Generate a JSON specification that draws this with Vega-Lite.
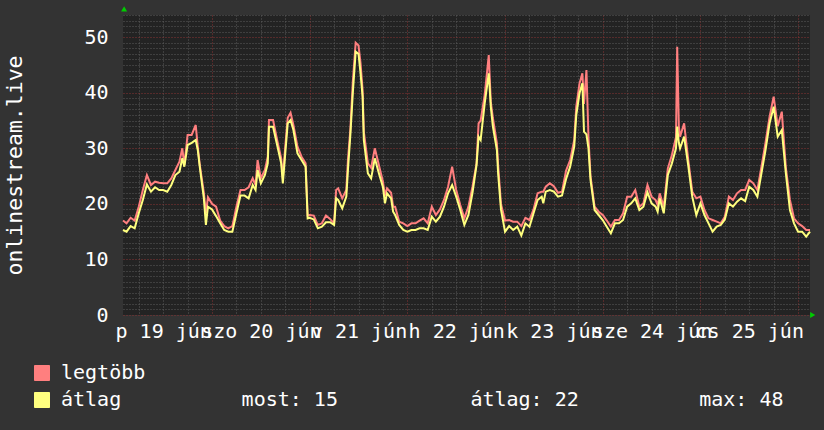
{
  "$schema": "https://vega.github.io/schema/vega-lite/v6.json",
  "width": 687,
  "height": 300,
  "autosize": {"type": "none"},
  "padding": {"left": 123, "top": 15, "right": 14, "bottom": 115},
  "background": "#333333",
  "config": {
    "view": {"fill": "#232323", "stroke": null},
    "font": "DejaVu Sans Mono",
    "axis": {
      "labelFont": "DejaVu Sans Mono",
      "labelColor": "#ffffff",
      "labelFontSize": 20,
      "domain": false,
      "ticks": false,
      "tickSize": 0,
      "gridWidth": 1,
      "gridDash": [1, 2],
      "gridColor": "#5c5c5c",
      "gridOpacity": 1,
      "title": null
    }
  },
  "data": {
    "values": [
      {"t": 2.13, "legtöbb": 17, "átlag": 15.3},
      {"t": 3, "legtöbb": 16.5, "átlag": 15.0},
      {"t": 4, "legtöbb": 17.5, "átlag": 16},
      {"t": 5, "legtöbb": 17, "átlag": 15.6},
      {"t": 6, "legtöbb": 19.5, "átlag": 18.3},
      {"t": 7, "legtöbb": 22.5, "átlag": 20.7},
      {"t": 8, "legtöbb": 25.2, "átlag": 23.5},
      {"t": 9, "legtöbb": 23.4, "átlag": 22.2},
      {"t": 10, "legtöbb": 24, "átlag": 23},
      {"t": 11, "legtöbb": 23.8, "átlag": 22.5},
      {"t": 12, "legtöbb": 23.7, "átlag": 22.5},
      {"t": 13, "legtöbb": 23.7, "átlag": 22.2},
      {"t": 14, "legtöbb": 24.6, "átlag": 23.4},
      {"t": 15, "legtöbb": 26.1, "átlag": 25.2},
      {"t": 16, "legtöbb": 27.6, "átlag": 25.8},
      {"t": 16.7, "legtöbb": 30, "átlag": 28.2},
      {"t": 17.2, "legtöbb": 27, "átlag": 26.7},
      {"t": 18, "legtöbb": 32.4, "átlag": 30.6},
      {"t": 19, "legtöbb": 32.4, "átlag": 31},
      {"t": 20, "legtöbb": 34.2, "átlag": 31.5},
      {"t": 20.5, "legtöbb": 30.3, "átlag": 29.7},
      {"t": 21, "legtöbb": 27, "átlag": 26.6},
      {"t": 22, "legtöbb": 22, "átlag": 21},
      {"t": 22.5, "legtöbb": 18.3, "átlag": 16.2},
      {"t": 23, "legtöbb": 21.2, "átlag": 19.5},
      {"t": 24, "legtöbb": 20, "átlag": 19},
      {"t": 25, "legtöbb": 19.5, "átlag": 17.8},
      {"t": 26, "legtöbb": 17, "átlag": 16.5},
      {"t": 27, "legtöbb": 16, "átlag": 15.3},
      {"t": 28, "legtöbb": 15.6, "átlag": 15},
      {"t": 29, "legtöbb": 16, "átlag": 15},
      {"t": 30, "legtöbb": 19.5, "átlag": 18.3},
      {"t": 31, "legtöbb": 22.5, "átlag": 21.5},
      {"t": 32, "legtöbb": 22.5, "átlag": 21.5},
      {"t": 33, "legtöbb": 23, "átlag": 21},
      {"t": 34, "legtöbb": 24.6, "átlag": 23.4},
      {"t": 34.7, "legtöbb": 23.4, "átlag": 22.5},
      {"t": 35.2, "legtöbb": 27.9, "átlag": 26.1},
      {"t": 36, "legtöbb": 24.6, "átlag": 23.7},
      {"t": 37, "legtöbb": 26.1, "átlag": 25.2},
      {"t": 37.7, "legtöbb": 28.5, "átlag": 27.3},
      {"t": 38, "legtöbb": 35.1, "átlag": 33.9},
      {"t": 39, "legtöbb": 35.1, "átlag": 33.9},
      {"t": 40, "legtöbb": 31.5, "átlag": 30.6},
      {"t": 41, "legtöbb": 28.2, "átlag": 27.3},
      {"t": 41.4, "legtöbb": 24.6, "átlag": 23.7},
      {"t": 42, "legtöbb": 30.3, "átlag": 29.1},
      {"t": 42.6, "legtöbb": 35.5, "átlag": 34.5},
      {"t": 43.3, "legtöbb": 36.4, "átlag": 35.1},
      {"t": 44, "legtöbb": 34.2, "átlag": 33.3},
      {"t": 45, "legtöbb": 30.3, "átlag": 29.1},
      {"t": 46, "legtöbb": 28.5, "átlag": 27.9},
      {"t": 47, "legtöbb": 27.3, "átlag": 26.7},
      {"t": 47.5, "legtöbb": 17.9, "átlag": 17.4},
      {"t": 48, "legtöbb": 18, "átlag": 17.5},
      {"t": 49, "legtöbb": 17.9, "átlag": 17.2},
      {"t": 50, "legtöbb": 16.2, "átlag": 15.6},
      {"t": 51, "legtöbb": 16.5, "átlag": 15.9},
      {"t": 52, "legtöbb": 17.9, "átlag": 16.7},
      {"t": 53, "legtöbb": 17.3, "átlag": 16.7},
      {"t": 54, "legtöbb": 16.5, "átlag": 16.2},
      {"t": 54.5, "legtöbb": 22.5, "átlag": 21},
      {"t": 55, "legtöbb": 22.8, "átlag": 20.7},
      {"t": 56, "legtöbb": 21, "átlag": 19.2},
      {"t": 57, "legtöbb": 22.5, "átlag": 21.3},
      {"t": 57.4, "legtöbb": 27.9, "átlag": 26.1},
      {"t": 58, "legtöbb": 33.5, "átlag": 32.5},
      {"t": 58.6, "legtöbb": 42, "átlag": 40},
      {"t": 59.3, "legtöbb": 49, "átlag": 47.4},
      {"t": 60, "legtöbb": 48.5, "átlag": 47},
      {"t": 60.5, "legtöbb": 45.3, "átlag": 43.5},
      {"t": 61, "legtöbb": 40.5, "átlag": 39.3},
      {"t": 61.3, "legtöbb": 33, "átlag": 31.5},
      {"t": 62.3, "legtöbb": 27.3, "átlag": 25.5},
      {"t": 63.1, "legtöbb": 26.5, "átlag": 24.6},
      {"t": 64, "legtöbb": 30, "átlag": 28.2},
      {"t": 65, "legtöbb": 27, "átlag": 25.5},
      {"t": 66, "legtöbb": 24, "átlag": 23},
      {"t": 66.5, "legtöbb": 21.5, "átlag": 20.1},
      {"t": 67, "legtöbb": 22.8, "átlag": 21.9},
      {"t": 68, "legtöbb": 22, "átlag": 21},
      {"t": 68.5, "legtöbb": 19.5, "átlag": 18.6},
      {"t": 69, "legtöbb": 19.5, "átlag": 18},
      {"t": 70, "legtöbb": 16.8, "átlag": 16.2},
      {"t": 71, "legtöbb": 16.5, "átlag": 15.3},
      {"t": 72, "legtöbb": 16, "átlag": 15},
      {"t": 73, "legtöbb": 16.5, "átlag": 15.3},
      {"t": 74, "legtöbb": 16.5, "átlag": 15.3},
      {"t": 75, "legtöbb": 17, "átlag": 15.6},
      {"t": 76, "legtöbb": 17.4, "átlag": 15.6},
      {"t": 77, "legtöbb": 16.5, "átlag": 15.3},
      {"t": 78, "legtöbb": 19.5, "átlag": 17.7},
      {"t": 79, "legtöbb": 18, "átlag": 16.8},
      {"t": 80, "legtöbb": 19, "átlag": 17.7},
      {"t": 81, "legtöbb": 20.7, "átlag": 19.5},
      {"t": 82, "legtöbb": 23.1, "átlag": 21.9},
      {"t": 83, "legtöbb": 26.7, "átlag": 23.4},
      {"t": 84, "legtöbb": 22.5, "átlag": 21.3},
      {"t": 85, "legtöbb": 19.8, "átlag": 18.9},
      {"t": 86, "legtöbb": 17.4, "átlag": 16.2},
      {"t": 87, "legtöbb": 19.5, "átlag": 18},
      {"t": 88, "legtöbb": 23.1, "átlag": 22},
      {"t": 89, "legtöbb": 27.3, "átlag": 27},
      {"t": 89.5, "legtöbb": 34.5, "átlag": 32.1},
      {"t": 90, "legtöbb": 35, "átlag": 31.5},
      {"t": 91, "legtöbb": 39.6, "átlag": 38.1},
      {"t": 92, "legtöbb": 46.8, "átlag": 43.5},
      {"t": 92.5, "legtöbb": 38.4, "átlag": 37.5},
      {"t": 93, "legtöbb": 35.5, "átlag": 34},
      {"t": 94, "legtöbb": 30.9, "átlag": 29.7},
      {"t": 94.3, "legtöbb": 27, "átlag": 25.5},
      {"t": 95, "legtöbb": 20, "átlag": 19},
      {"t": 96, "legtöbb": 17, "átlag": 15},
      {"t": 97, "legtöbb": 17.1, "átlag": 16},
      {"t": 98, "legtöbb": 16.8, "átlag": 15.3},
      {"t": 99, "legtöbb": 16.8, "átlag": 15.9},
      {"t": 100, "legtöbb": 16, "átlag": 14.3},
      {"t": 101, "legtöbb": 17.5, "átlag": 16.5},
      {"t": 102, "legtöbb": 17.1, "átlag": 15.9},
      {"t": 103, "legtöbb": 19, "átlag": 18.3},
      {"t": 104, "legtöbb": 21.9, "átlag": 20.7},
      {"t": 105, "legtöbb": 22.2, "átlag": 21.3},
      {"t": 105.4, "legtöbb": 22.2, "átlag": 20.1},
      {"t": 106, "legtöbb": 23.1, "átlag": 22.2},
      {"t": 107, "legtöbb": 23.7, "átlag": 22.5},
      {"t": 108, "legtöbb": 23.2, "átlag": 22.2},
      {"t": 109, "legtöbb": 22, "átlag": 21.3},
      {"t": 110, "legtöbb": 22.2, "átlag": 21.5},
      {"t": 111, "legtöbb": 26, "átlag": 24.5},
      {"t": 112, "legtöbb": 27.9, "átlag": 26.7},
      {"t": 113, "legtöbb": 31.5, "átlag": 30.3},
      {"t": 113.5, "legtöbb": 37.5, "átlag": 36},
      {"t": 114.3, "legtöbb": 41.7, "átlag": 39.9},
      {"t": 115, "legtöbb": 43.5, "átlag": 41.7},
      {"t": 115.4, "legtöbb": 38, "átlag": 33},
      {"t": 116, "legtöbb": 44.1, "átlag": 32.5},
      {"t": 116.5, "legtöbb": 32, "átlag": 30},
      {"t": 117, "legtöbb": 25, "átlag": 24.3},
      {"t": 118, "legtöbb": 19.5, "átlag": 18.9},
      {"t": 119, "legtöbb": 18.6, "átlag": 18},
      {"t": 120, "legtöbb": 18, "átlag": 17.1},
      {"t": 121, "legtöbb": 17, "átlag": 15.9},
      {"t": 122, "legtöbb": 15.9, "átlag": 14.7},
      {"t": 123, "legtöbb": 17.1, "átlag": 16.5},
      {"t": 124, "legtöbb": 17.1, "átlag": 16.5},
      {"t": 125, "legtöbb": 18.3, "átlag": 17.1},
      {"t": 126, "legtöbb": 21.3, "átlag": 19.5},
      {"t": 127, "legtöbb": 21.3, "átlag": 20.1},
      {"t": 128, "legtöbb": 22.5, "átlag": 21},
      {"t": 129, "legtöbb": 19.5, "átlag": 18.9},
      {"t": 130, "legtöbb": 20.1, "átlag": 19.5},
      {"t": 131, "legtöbb": 23.4, "átlag": 22.1},
      {"t": 132, "legtöbb": 21.3, "átlag": 20.1},
      {"t": 133, "legtöbb": 20.7, "átlag": 19.5},
      {"t": 133.5, "legtöbb": 19.8, "átlag": 18.6},
      {"t": 134, "legtöbb": 21.9, "átlag": 21},
      {"t": 135, "legtöbb": 19.5, "átlag": 18.3},
      {"t": 136, "legtöbb": 26.4, "átlag": 25.2},
      {"t": 137, "legtöbb": 28.8, "átlag": 27.3},
      {"t": 138, "legtöbb": 32, "átlag": 30},
      {"t": 138.3, "legtöbb": 48.3, "átlag": 33.9},
      {"t": 138.7, "legtöbb": 34, "átlag": 31},
      {"t": 139, "legtöbb": 32.1, "átlag": 30},
      {"t": 140, "legtöbb": 34.5, "átlag": 32.1},
      {"t": 141, "legtöbb": 28, "átlag": 27},
      {"t": 142, "legtöbb": 22.2, "átlag": 21.3},
      {"t": 143, "legtöbb": 21, "átlag": 18},
      {"t": 144, "legtöbb": 21.3, "átlag": 20.1},
      {"t": 145, "legtöbb": 18.9, "átlag": 18},
      {"t": 146, "legtöbb": 17.4, "átlag": 16.5},
      {"t": 147, "legtöbb": 17.1, "átlag": 15},
      {"t": 148, "legtöbb": 16.8, "átlag": 15.9},
      {"t": 149, "legtöbb": 16.5, "átlag": 16.2},
      {"t": 150, "legtöbb": 17.7, "átlag": 17.2},
      {"t": 151, "legtöbb": 21.3, "átlag": 20.1},
      {"t": 152, "legtöbb": 20.7, "átlag": 19.5},
      {"t": 153, "legtöbb": 21.9, "átlag": 20.4},
      {"t": 154, "legtöbb": 22.5, "átlag": 21},
      {"t": 155, "legtöbb": 22.5, "átlag": 20.5},
      {"t": 156, "legtöbb": 24.3, "átlag": 23.1},
      {"t": 157, "legtöbb": 23.7, "átlag": 22.5},
      {"t": 158, "legtöbb": 22.5, "átlag": 21.3},
      {"t": 159, "legtöbb": 26.7, "átlag": 25.5},
      {"t": 160, "legtöbb": 31, "átlag": 29.7},
      {"t": 161, "legtöbb": 35.7, "átlag": 34.5},
      {"t": 162, "legtöbb": 39.3, "átlag": 37.5},
      {"t": 163, "legtöbb": 34, "átlag": 32.1},
      {"t": 164, "legtöbb": 36.6, "átlag": 33.3},
      {"t": 165, "legtöbb": 26.5, "átlag": 25.5},
      {"t": 166, "legtöbb": 20.7, "átlag": 18.9},
      {"t": 167, "legtöbb": 17.4, "átlag": 16.5},
      {"t": 168, "legtöbb": 16.5, "átlag": 15},
      {"t": 169, "legtöbb": 16, "átlag": 15},
      {"t": 170, "legtöbb": 15.3, "átlag": 14.1},
      {"t": 170.93, "legtöbb": 15.3, "átlag": 15}
    ]
  },
  "transform": [{"fold": ["legtöbb", "átlag"], "as": ["s", "v"]}],
  "resolve": {"axis": {"x": "independent", "y": "independent"}},
  "layer": [
    {
      "transform": [{"filter": "datum.s == 'legtöbb'"}],
      "mark": {"type": "line", "strokeWidth": 2, "interpolate": "linear"},
      "encoding": {
        "x": {
          "field": "t",
          "type": "quantitative",
          "scale": {"domain": [2.13, 170.93], "nice": false, "zero": false},
          "axis": {
            "orient": "bottom",
            "values": [12, 36, 60, 84, 108, 132, 156],
            "labelExpr": "datum.value == 12 ? 'p 19 jún' : datum.value == 36 ? 'szo 20 jún' : datum.value == 60 ? 'v 21 jún' : datum.value == 84 ? 'h 22 jún' : datum.value == 108 ? 'k 23 jún' : datum.value == 132 ? 'sze 24 jún' : 'cs 25 jún'",
            "labelAlign": "center",
            "labelBaseline": "alphabetic",
            "labelPadding": 22,
            "labelOverlap": false,
            "labelFlush": false,
            "labelBound": false,
            "labelLimit": 300,
            "grid": true
          }
        },
        "y": {
          "field": "v",
          "type": "quantitative",
          "scale": {"domain": [0, 54], "nice": false, "zero": true},
          "axis": {
            "orient": "left",
            "values": [1,2,3,4,5,6,7,8,9,11,12,13,14,15,16,17,18,19,21,22,23,24,25,26,27,28,29,31,32,33,34,35,36,37,38,39,41,42,43,44,45,46,47,48,49,51,52,53,54],
            "labels": false,
            "grid": true
          }
        },
        "color": {
          "field": "s",
          "type": "nominal",
          "scale": {"domain": ["legtöbb", "átlag"], "range": ["#ff7f7f", "#ffff7f"]},
          "legend": {
            "orient": "none",
            "legendX": -91,
            "legendY": 348,
            "direction": "vertical",
            "title": null,
            "padding": 0,
            "symbolType": "square",
            "symbolSize": 225,
            "symbolStrokeWidth": 1,
            "labelFont": "DejaVu Sans Mono",
            "labelFontSize": 20,
            "labelColor": "#ffffff",
            "labelOffset": 9,
            "labelLimit": 900,
            "rowPadding": 7,
            "labelExpr": "datum.label == 'átlag' ? 'átlag\u00a0\u00a0\u00a0\u00a0\u00a0\u00a0\u00a0\u00a0\u00a0\u00a0most:\u00a015\u00a0\u00a0\u00a0\u00a0\u00a0\u00a0\u00a0\u00a0\u00a0\u00a0\u00a0átlag:\u00a022\u00a0\u00a0\u00a0\u00a0\u00a0\u00a0\u00a0\u00a0\u00a0\u00a0max:\u00a048' : datum.label",
            "encode": {
              "symbols": {
                "update": {
                  "fill": {"scale": "color", "field": "value"},
                  "stroke": {"value": "#000000"},
                  "strokeWidth": {"value": 1},
                  "opacity": {"value": 1}
                }
              }
            }
          }
        }
      }
    },
    {
      "transform": [{"filter": "datum.s == 'átlag'"}],
      "mark": {"type": "line", "strokeWidth": 2, "interpolate": "linear"},
      "encoding": {
        "x": {
          "field": "t",
          "type": "quantitative",
          "axis": {
            "orient": "bottom",
            "values": [6, 18, 30, 42, 54, 66, 78, 90, 102, 114, 126, 138, 150, 162],
            "labels": false,
            "grid": true
          }
        },
        "y": {
          "field": "v",
          "type": "quantitative",
          "axis": {
            "orient": "left",
            "values": [0, 10, 20, 30, 40, 50],
            "labelBaseline": "middle",
            "labelPadding": 15,
            "grid": true,
            "gridColor": "#8a3535",
            "title": "onlinestream.live",
            "titleFont": "DejaVu Sans Mono",
            "titleFontSize": 21.5,
            "titleFontWeight": "normal",
            "titleColor": "#ffffff",
            "titleAngle": -90,
            "titleAlign": "center",
            "titleBaseline": "alphabetic",
            "titleX": -102,
            "titleY": 150
          }
        },
        "color": {"field": "s", "type": "nominal"}
      }
    },
    {
      "data": {"values": [{}]},
      "mark": {"type": "point", "shape": "triangle-right", "filled": true, "color": "#00cc00", "opacity": 1, "size": 36},
      "encoding": {
        "x": {
          "datum": 171.6,
          "type": "quantitative",
          "axis": {
            "orient": "bottom",
            "values": [24, 48, 72, 96, 120, 144, 168],
            "labels": false,
            "grid": true,
            "gridColor": "#8a3535"
          }
        },
        "y": {"datum": 0, "type": "quantitative", "axis": null}
      }
    },
    {
      "data": {"values": [{}]},
      "mark": {"type": "point", "shape": "triangle-up", "filled": true, "color": "#00cc00", "opacity": 1, "size": 36},
      "encoding": {
        "x": {"datum": 2.4, "type": "quantitative", "axis": null},
        "y": {"datum": 55.1, "type": "quantitative", "axis": null}
      }
    }
  ]
}
